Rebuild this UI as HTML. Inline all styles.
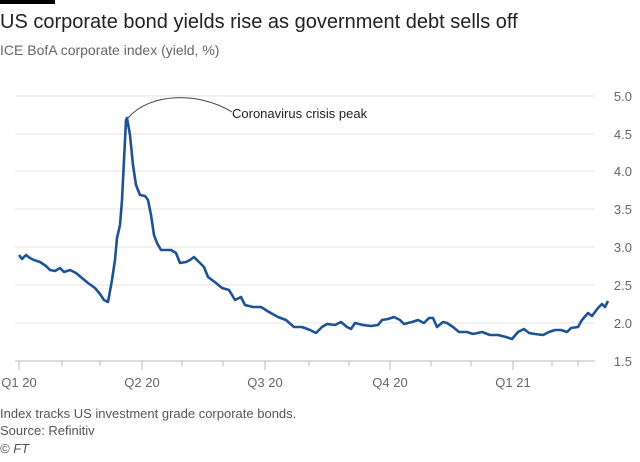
<!DOCTYPE html>
<html><head><meta charset="utf-8"><style>
body{margin:0;background:#fff;width:640px;height:457px;overflow:hidden;font-family:"Liberation Sans",sans-serif}
</style></head><body>
<svg width="640" height="457" viewBox="0 0 640 457" xmlns="http://www.w3.org/2000/svg" font-family="Liberation Sans, sans-serif">
<rect x="0" y="0" width="55" height="4" fill="#000"/>
<text x="0" y="28" font-size="20" fill="#222">US corporate bond yields rise as government debt sells off</text>
<text x="0" y="55" font-size="14" fill="#666">ICE BofA corporate index (yield, %)</text>
<g stroke="#e6e6e6" stroke-width="1">
<line x1="15" x2="595" y1="96" y2="96"/><line x1="15" x2="595" y1="134" y2="134"/>
<line x1="15" x2="595" y1="171" y2="171"/><line x1="15" x2="595" y1="209" y2="209"/>
<line x1="15" x2="595" y1="247" y2="247"/><line x1="15" x2="595" y1="285" y2="285"/>
<line x1="15" x2="595" y1="323" y2="323"/>
</g>
<line x1="15" x2="595" y1="361" y2="361" stroke="#bbb"/>
<g stroke="#bbb"><line x1="19" x2="19" y1="361" y2="370"/><line x1="142" x2="142" y1="361" y2="370"/><line x1="265" x2="265" y1="361" y2="370"/><line x1="390" x2="390" y1="361" y2="370"/><line x1="513" x2="513" y1="361" y2="370"/>
<line x1="62" x2="62" y1="361" y2="366"/><line x1="100" x2="100" y1="361" y2="366"/><line x1="182" x2="182" y1="361" y2="366"/><line x1="223" x2="223" y1="361" y2="366"/><line x1="309" x2="309" y1="361" y2="366"/><line x1="349" x2="349" y1="361" y2="366"/><line x1="431" x2="431" y1="361" y2="366"/><line x1="471" x2="471" y1="361" y2="366"/><line x1="552" x2="552" y1="361" y2="366"/><line x1="578" x2="578" y1="361" y2="366"/></g>
<g font-size="13" fill="#666" text-anchor="end">
<text x="632" y="101">5.0</text><text x="632" y="139">4.5</text><text x="632" y="176">4.0</text><text x="632" y="214">3.5</text><text x="632" y="252">3.0</text><text x="632" y="290">2.5</text><text x="632" y="328">2.0</text><text x="632" y="366">1.5</text>
</g>
<g font-size="13" fill="#666" text-anchor="middle">
<text x="19" y="387">Q1 20</text><text x="142" y="387">Q2 20</text><text x="265" y="387">Q3 20</text><text x="390" y="387">Q4 20</text><text x="513" y="387">Q1 21</text>
</g>
<path d="M128,118 C150,92 200,92 232,112" fill="none" stroke="#444" stroke-width="1"/>
<text x="232" y="118" font-size="13" fill="#222">Coronavirus crisis peak</text>
<polyline fill="none" stroke="#1d5394" stroke-width="2.6" stroke-linejoin="round" points="19,255 22,259 26,255 30,258 34,260 40,262 46,266 50,270 55,271 60,268 64,272 70,270 76,273 82,278 88,283 95,288 100,294 104,300 108,302 112,280 115,260 117,238 120,225 122,200 124,160 126,120 127,118 130,135 133,165 136,185 140,195 145,196 148,200 151,215 154,235 157,243 161,250 171,250 176,253 180,263 186,262 190,260 194,257 200,263 204,267 208,277 216,283 222,288 229,290 235,300 241,297 245,305 253,307 261,307 269,312 278,317 286,320 294,327 302,327 310,330 316,333 322,327 327,324 335,325 341,322 347,327 351,329 355,323 363,325 371,326 378,325 382,320 388,319 394,317 400,320 404,324 412,322 418,320 424,323 429,318 433,318 437,327 443,322 447,323 453,327 459,332 467,332 473,334 482,332 490,335 498,335 506,337 512,339 518,332 524,329 529,333 535,334 543,335 549,332 555,330 561,330 567,332 571,328 578,327 582,320 588,313 592,316 598,308 602,304 605,307 608,301"/>
<g font-size="13" fill="#555">
<text x="0" y="418">Index tracks US investment grade corporate bonds.</text>
<text x="0" y="435">Source: Refinitiv</text>
<text x="0" y="453" font-style="italic">© FT</text>
</g>
</svg>
</body></html>
